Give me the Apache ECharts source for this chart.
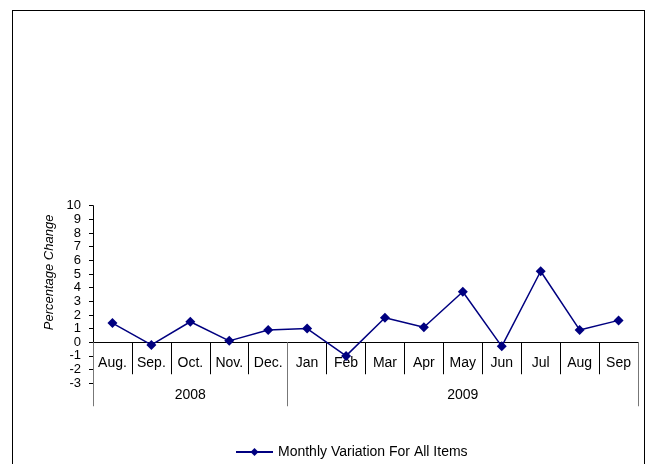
<!DOCTYPE html>
<html>
<head>
<meta charset="utf-8">
<title>Monthly Variation For All Items</title>
<script src="https://cdn.jsdelivr.net/npm/echarts@6.0.0/dist/echarts.min.js"></script>
<style>
  html, body { margin: 0; padding: 0; background: #fff; overflow: hidden; }
  #chart { position: absolute; left: 0; top: 0; width: 647px; height: 464px; }
  #frame {
    position: absolute; left: 12px; top: 10px; width: 633px; height: 470px;
    box-sizing: border-box; border: 1px solid #000; pointer-events: none;
  }
</style>
</head>
<body>
<div id="chart"></div>
<div id="frame"></div>
<script>
// Chart data
const months = ['Aug.', 'Sep.', 'Oct.', 'Nov.', 'Dec.', 'Jan', 'Feb', 'Mar', 'Apr', 'May', 'Jun', 'Jul', 'Aug', 'Sep'];
const years = ['2008', '2008', '2008', '2008', '2008', '2009', '2009', '2009', '2009', '2009', '2009', '2009', '2009', '2009'];
const variation = [1.4, -0.2, 1.5, 0.1, 0.9, 1.0, -1.0, 1.8, 1.1, 3.7, -0.3, 5.2, 0.9, 1.6];
const seriesName = 'Monthly Variation For All Items';
const yMin = -3;
const yMax = 10;

const FONT = 'Liberation Sans, Arial, sans-serif';
const CHART_H = 464;
const GRID_TOP = 205.7;
const GRID_BOTTOM = 80.8;

// year groups: first index of each year, and the middle index where its label sits
const yearStarts = [];
const yearMiddles = [];
years.forEach((y, i) => {
  if (i === 0 || years[i - 1] !== y) yearStarts.push(i);
});
yearStarts.forEach((s, k) => {
  const end = k + 1 < yearStarts.length ? yearStarts[k + 1] - 1 : years.length - 1;
  yearMiddles.push(Math.floor((s + end) / 2));
});

// the category axes sit on the zero line: pull them up from the grid bottom
const gridH = CHART_H - GRID_TOP - GRID_BOTTOM;
const zeroOffset = -((0 - yMin) / (yMax - yMin)) * gridH;

const chart = echarts.init(document.getElementById('chart'), null, { renderer: 'canvas' });

const option = {
  animation: false,
  backgroundColor: '#fff',
  textStyle: { fontFamily: FONT },
  grid: {
    left: 93,
    right: 9,
    top: GRID_TOP,
    bottom: GRID_BOTTOM
  },
  legend: {
    data: [seriesName],
    left: 235,
    top: 445,
    padding: 0,
    itemWidth: 37,
    itemHeight: 10,
    itemGap: 5,
    textStyle: { fontSize: 14, color: '#000', fontFamily: FONT }
  },
  xAxis: [
    {
      type: 'category',
      data: months,
      position: 'bottom',
      offset: zeroOffset,
      axisLine: { show: true, onZero: false, lineStyle: { color: '#000', width: 1 } },
      axisTick: { show: true, interval: 0, length: 32, lineStyle: { color: '#000' } },
      axisLabel: { show: true, interval: 0, margin: 14, fontSize: 14, color: '#000', fontFamily: FONT },
      splitLine: { show: false }
    },
    {
      type: 'category',
      data: years,
      position: 'bottom',
      offset: zeroOffset,
      axisLine: { show: false, onZero: false },
      axisTick: {
        show: true,
        interval: (i) => yearStarts.includes(i),
        length: 64,
        lineStyle: { color: '#777' }
      },
      axisLabel: {
        show: true,
        interval: (i) => yearMiddles.includes(i),
        margin: 46,
        fontSize: 14,
        color: '#000',
        fontFamily: FONT
      },
      splitLine: { show: false }
    }
  ],
  yAxis: {
    type: 'value',
    min: yMin,
    max: yMax,
    interval: 1,
    name: 'Percentage Change',
    nameLocation: 'middle',
    nameGap: 37,
    nameTextStyle: {
      fontSize: 13,
      fontStyle: 'italic',
      color: '#000',
      fontFamily: FONT,
      padding: [0, 0, 0, 44]
    },
    axisLine: { show: true, lineStyle: { color: '#000' } },
    axisTick: { show: true, length: 4, lineStyle: { color: '#000' } },
    axisLabel: { margin: 12, fontSize: 13, color: '#000', fontFamily: FONT },
    splitLine: { show: false }
  },
  series: [{
    name: seriesName,
    type: 'line',
    xAxisIndex: 0,
    data: variation,
    symbol: 'diamond',
    symbolSize: 10,
    showAllSymbol: true,
    lineStyle: { color: '#000080', width: 1.5 },
    itemStyle: { color: '#000080' }
  }]
};

chart.setOption(option);
window.addEventListener('resize', () => chart.resize());
</script>
</body>
</html>
